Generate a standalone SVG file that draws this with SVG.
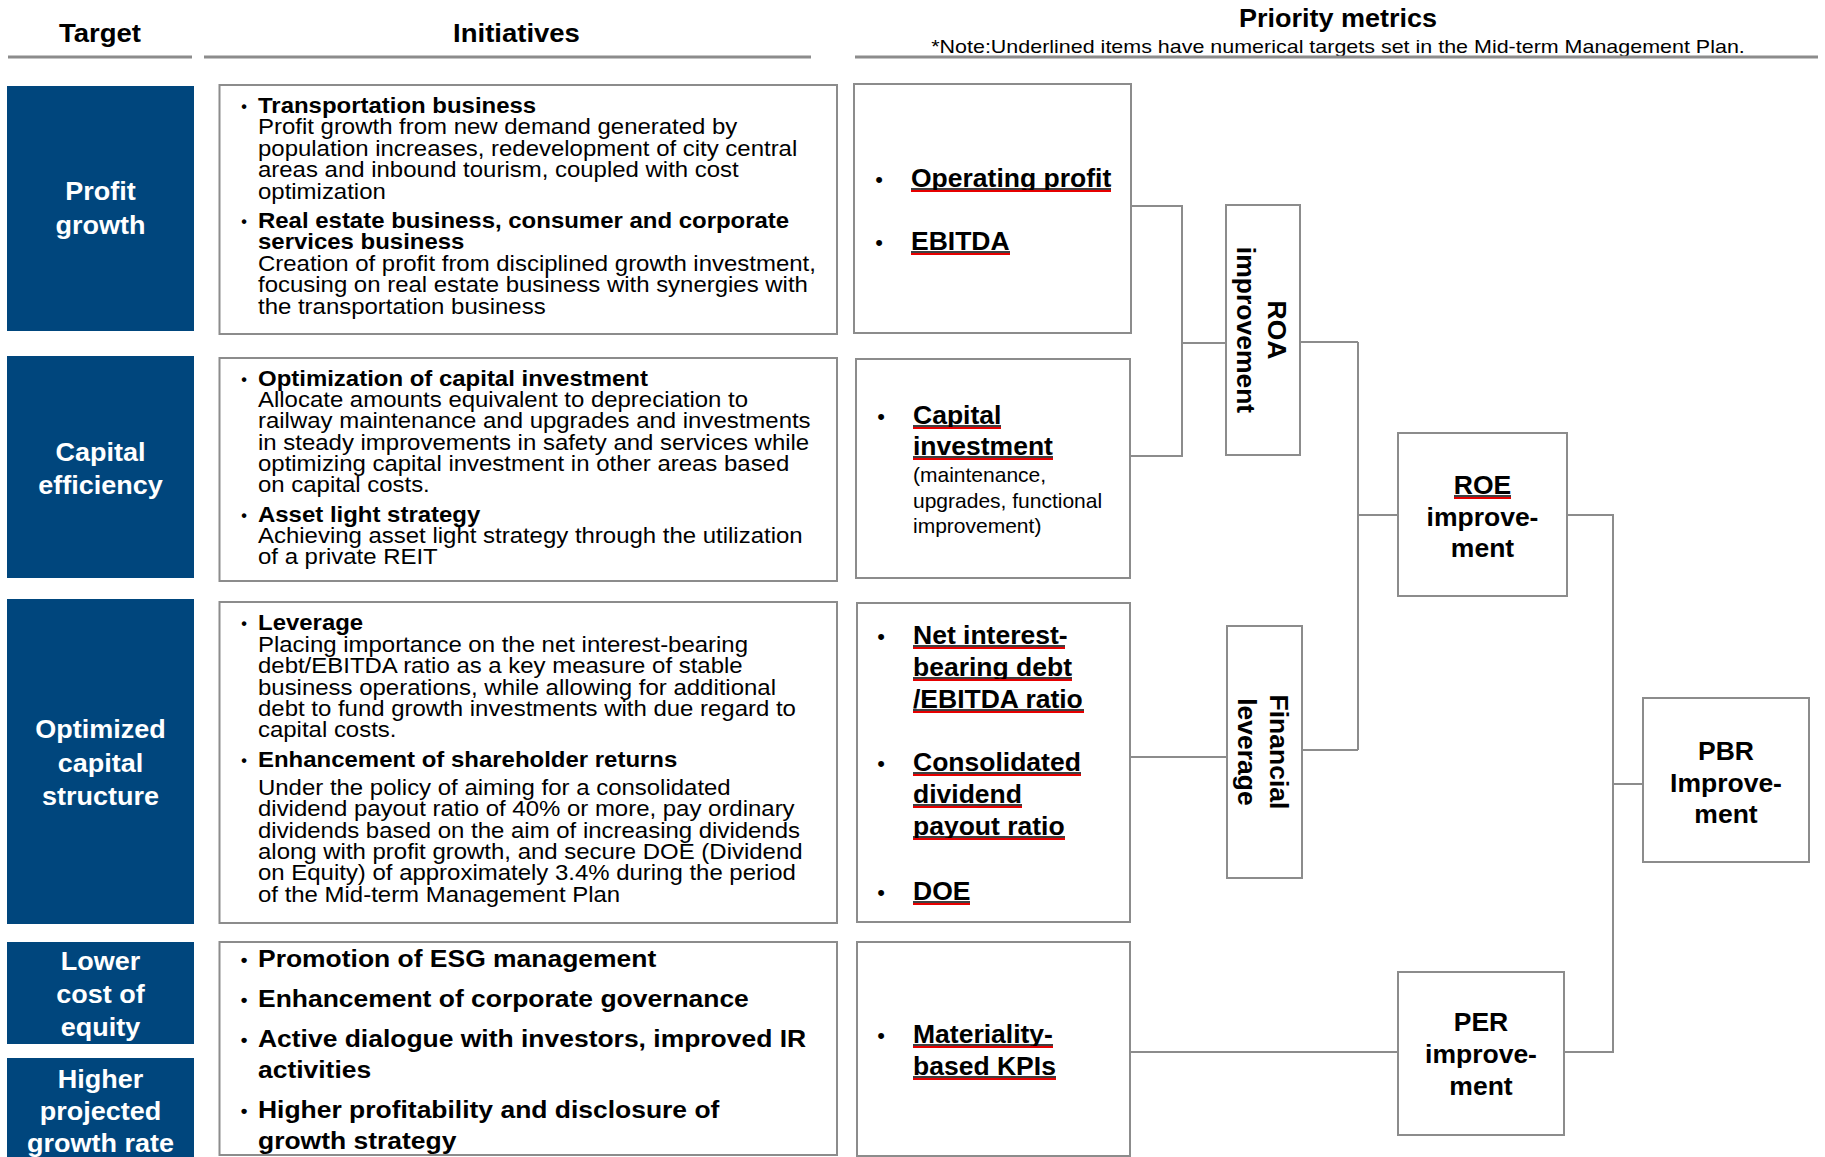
<svg xmlns="http://www.w3.org/2000/svg" width="1825" height="1157" viewBox="0 0 1825 1157">
<style>
text{font-family:"Liberation Sans",Arial,sans-serif;fill:#000}
.hdr{font-weight:bold;font-size:25px}
.note{font-size:19px}
.tgt{font-weight:bold;font-size:25px;fill:#fff}
.tbox{fill:#00467d}
.box{fill:#fff;stroke:#8c8c8c;stroke-width:2}
.hline{stroke:#8c8c8c;stroke-width:3}
.conn{fill:none;stroke:#8c8c8c;stroke-width:2}
.ini{font-size:22.5px}
.b{font-weight:bold}
.ib{font-size:16px;font-weight:bold}
.big{font-weight:bold;font-size:24.5px}
.bb{font-size:19px;font-weight:bold}
.met{font-weight:bold;font-size:26.5px}
.mb{font-size:22px}
.sub{font-size:21px}
.ulk{stroke:#000;stroke-width:1.5}
.ulr{stroke:#e60000;stroke-width:1.8}
</style>

<g id="headers">
<text class="hdr" text-anchor="middle" transform="translate(100 42) scale(1.1 1)">Target</text>
<text class="hdr" text-anchor="middle" transform="translate(516.5 42) scale(1.1 1)">Initiatives</text>
<text class="hdr" text-anchor="middle" transform="translate(1338 27) scale(1.08 1)">Priority metrics</text>
<text class="note" text-anchor="middle" transform="translate(1338 53) scale(1.13 1)">*Note:Underlined items have numerical targets set in the Mid-term Management Plan.</text>
<line class="hline" x1="8" y1="57" x2="192" y2="57"/>
<line class="hline" x1="204" y1="57" x2="811" y2="57"/>
<line class="hline" x1="855" y1="57" x2="1818" y2="57"/>
</g>

<g id="target-profit-growth">
<rect class="tbox" x="7" y="86" width="187" height="245"/>
<g transform="translate(100.5 0) scale(1.08 1)"><text class="tgt" text-anchor="middle"><tspan x="0" y="200">Profit</tspan><tspan x="0" y="234">growth</tspan></text></g>
</g>
<g id="target-capital-efficiency">
<rect class="tbox" x="7" y="356" width="187" height="222"/>
<g transform="translate(100.5 0) scale(1.08 1)"><text class="tgt" text-anchor="middle"><tspan x="0" y="461">Capital</tspan><tspan x="0" y="494">efficiency</tspan></text></g>
</g>
<g id="target-optimized-capital-structure">
<rect class="tbox" x="7" y="599" width="187" height="325"/>
<g transform="translate(100.5 0) scale(1.08 1)"><text class="tgt" text-anchor="middle"><tspan x="0" y="738">Optimized</tspan><tspan x="0" y="772">capital</tspan><tspan x="0" y="805">structure</tspan></text></g>
</g>
<g id="target-lower-cost-of-equity">
<rect class="tbox" x="7" y="942" width="187" height="102"/>
<g transform="translate(100.5 0) scale(1.08 1)"><text class="tgt" text-anchor="middle"><tspan x="0" y="970">Lower</tspan><tspan x="0" y="1003">cost of</tspan><tspan x="0" y="1036">equity</tspan></text></g>
</g>
<g id="target-higher-projected-growth-rate">
<rect class="tbox" x="7" y="1058" width="187" height="105"/>
<g transform="translate(100.5 0) scale(1.08 1)"><text class="tgt" text-anchor="middle"><tspan x="0" y="1088">Higher</tspan><tspan x="0" y="1120">projected</tspan><tspan x="0" y="1152">growth rate</tspan></text></g>
</g>

<g id="initiatives-profit-growth">
<rect class="box" x="219.5" y="85" width="617.5" height="249"/>
<text class="ib" text-anchor="middle" x="244" y="112">•</text>
<text class="ib" text-anchor="middle" x="244" y="227">•</text>
<g transform="translate(258 0) scale(1.065 1)"><text class="ini">
<tspan class="b" x="0" y="113">Transportation business</tspan>
<tspan x="0" y="134.5">Profit growth from new demand generated by</tspan>
<tspan x="0" y="156">population increases, redevelopment of city central</tspan>
<tspan x="0" y="177.5">areas and inbound tourism, coupled with cost</tspan>
<tspan x="0" y="199">optimization</tspan>
<tspan class="b" x="0" y="228">Real estate business, consumer and corporate</tspan>
<tspan class="b" x="0" y="249.5">services business</tspan>
<tspan x="0" y="271">Creation of profit from disciplined growth investment,</tspan>
<tspan x="0" y="292.5">focusing on real estate business with synergies with</tspan>
<tspan x="0" y="314">the transportation business</tspan>
</text></g>
</g>

<g id="initiatives-capital-efficiency">
<rect class="box" x="219.5" y="358" width="617.5" height="223"/>
<text class="ib" text-anchor="middle" x="244" y="385">•</text>
<text class="ib" text-anchor="middle" x="244" y="521">•</text>
<g transform="translate(258 0) scale(1.065 1)"><text class="ini">
<tspan class="b" x="0" y="386">Optimization of capital investment</tspan>
<tspan x="0" y="407">Allocate amounts equivalent to depreciation to</tspan>
<tspan x="0" y="428.5">railway maintenance and upgrades and investments</tspan>
<tspan x="0" y="450">in steady improvements in safety and services while</tspan>
<tspan x="0" y="471">optimizing capital investment in other areas based</tspan>
<tspan x="0" y="492">on capital costs.</tspan>
<tspan class="b" x="0" y="522">Asset light strategy</tspan>
<tspan x="0" y="543">Achieving asset light strategy through the utilization</tspan>
<tspan x="0" y="564">of a private REIT</tspan>
</text></g>
</g>

<g id="initiatives-optimized-capital-structure">
<rect class="box" x="219.5" y="602" width="617.5" height="321"/>
<text class="ib" text-anchor="middle" x="244" y="629">•</text>
<text class="ib" text-anchor="middle" x="244" y="766">•</text>
<g transform="translate(258 0) scale(1.065 1)"><text class="ini">
<tspan class="b" x="0" y="630">Leverage</tspan>
<tspan x="0" y="652">Placing importance on the net interest-bearing</tspan>
<tspan x="0" y="673">debt/EBITDA ratio as a key measure of stable</tspan>
<tspan x="0" y="695">business operations, while allowing for additional</tspan>
<tspan x="0" y="716">debt to fund growth investments with due regard to</tspan>
<tspan x="0" y="737">capital costs.</tspan>
<tspan class="b" x="0" y="767">Enhancement of shareholder returns</tspan>
<tspan x="0" y="795">Under the policy of aiming for a consolidated</tspan>
<tspan x="0" y="816.5">dividend payout ratio of 40% or more, pay ordinary</tspan>
<tspan x="0" y="838">dividends based on the aim of increasing dividends</tspan>
<tspan x="0" y="859">along with profit growth, and secure DOE (Dividend</tspan>
<tspan x="0" y="880.5">on Equity) of approximately 3.4% during the period</tspan>
<tspan x="0" y="902">of the Mid-term Management Plan</tspan>
</text></g>
</g>

<g id="initiatives-cost-of-equity">
<rect class="box" x="219.5" y="942" width="617.5" height="213"/>
<text class="bb" text-anchor="middle" x="244" y="966">•</text>
<text class="bb" text-anchor="middle" x="244" y="1006">•</text>
<text class="bb" text-anchor="middle" x="244" y="1046">•</text>
<text class="bb" text-anchor="middle" x="244" y="1117">•</text>
<g transform="translate(258 0) scale(1.08 1)"><text class="big">
<tspan x="0" y="967">Promotion of ESG management</tspan>
<tspan x="0" y="1007">Enhancement of corporate governance</tspan>
<tspan x="0" y="1047">Active dialogue with investors, improved IR</tspan>
<tspan x="0" y="1078">activities</tspan>
<tspan x="0" y="1118">Higher profitability and disclosure of</tspan>
<tspan x="0" y="1149">growth strategy</tspan>
</text></g>
</g>

<g id="metric-profit">
<rect class="box" x="854" y="84" width="277" height="249"/>
<text class="mb" text-anchor="middle" x="879" y="187">•</text>
<text class="mb" text-anchor="middle" x="879" y="250">•</text>
<text class="met" x="911" y="187">Operating profit</text>
<text class="met" x="911" y="250">EBITDA</text>
<line class="ulk" x1="911" y1="189" x2="1111" y2="189"/><line class="ulr" x1="911" y1="191" x2="1111" y2="191"/>
<line class="ulk" x1="911" y1="252" x2="1010" y2="252"/><line class="ulr" x1="911" y1="254" x2="1010" y2="254"/>
</g>

<g id="metric-capital-investment">
<rect class="box" x="856" y="359" width="274" height="219"/>
<text class="mb" text-anchor="middle" x="881" y="424">•</text>
<text class="met"><tspan x="913" y="424">Capital</tspan><tspan x="913" y="455">investment</tspan></text>
<line class="ulk" x1="913" y1="426" x2="1001" y2="426"/><line class="ulr" x1="913" y1="428" x2="1001" y2="428"/>
<line class="ulk" x1="913" y1="457" x2="1053" y2="457"/><line class="ulr" x1="913" y1="459" x2="1053" y2="459"/>
<text class="sub"><tspan x="913" y="482">(maintenance,</tspan><tspan x="913" y="508">upgrades, functional</tspan><tspan x="913" y="533">improvement)</tspan></text>
</g>

<g id="metric-leverage">
<rect class="box" x="857" y="603" width="273" height="319"/>
<text class="mb" text-anchor="middle" x="881" y="644">•</text>
<text class="mb" text-anchor="middle" x="881" y="771">•</text>
<text class="mb" text-anchor="middle" x="881" y="900">•</text>
<text class="met"><tspan x="913" y="644">Net interest-</tspan><tspan x="913" y="676">bearing debt</tspan><tspan x="913" y="708">/EBITDA ratio</tspan><tspan x="913" y="771">Consolidated</tspan><tspan x="913" y="803">dividend</tspan><tspan x="913" y="835">payout ratio</tspan><tspan x="913" y="900">DOE</tspan></text>
<line class="ulk" x1="913" y1="646" x2="1065" y2="646"/><line class="ulr" x1="913" y1="648" x2="1065" y2="648"/>
<line class="ulk" x1="913" y1="678" x2="1072" y2="678"/><line class="ulr" x1="913" y1="680" x2="1072" y2="680"/>
<line class="ulk" x1="913" y1="710" x2="1084" y2="710"/><line class="ulr" x1="913" y1="712" x2="1084" y2="712"/>
<line class="ulk" x1="913" y1="773" x2="1081" y2="773"/><line class="ulr" x1="913" y1="775" x2="1081" y2="775"/>
<line class="ulk" x1="913" y1="805" x2="1022" y2="805"/><line class="ulr" x1="913" y1="807" x2="1022" y2="807"/>
<line class="ulk" x1="913" y1="837" x2="1065" y2="837"/><line class="ulr" x1="913" y1="839" x2="1065" y2="839"/>
<line class="ulk" x1="913" y1="902" x2="970" y2="902"/><line class="ulr" x1="913" y1="904" x2="970" y2="904"/>
</g>

<g id="metric-materiality">
<rect class="box" x="857" y="942" width="273" height="214"/>
<text class="mb" text-anchor="middle" x="881" y="1043">•</text>
<text class="met"><tspan x="913" y="1043">Materiality-</tspan><tspan x="913" y="1075">based KPIs</tspan></text>
<line class="ulk" x1="913" y1="1045" x2="1053" y2="1045"/><line class="ulr" x1="913" y1="1047" x2="1053" y2="1047"/>
<line class="ulk" x1="913" y1="1077" x2="1056" y2="1077"/><line class="ulr" x1="913" y1="1079" x2="1056" y2="1079"/>
</g>

<g id="roa">
<rect class="box" x="1226" y="205" width="74" height="250"/>
<text class="met" text-anchor="middle" transform="translate(1263 330) rotate(90)"><tspan x="0" y="-5">ROA</tspan><tspan x="0" y="26">improvement</tspan></text>
</g>

<g id="financial-leverage">
<rect class="box" x="1227" y="626" width="75" height="252"/>
<text class="met" text-anchor="middle" transform="translate(1264.5 752) rotate(90)"><tspan x="0" y="-5">Financial</tspan><tspan x="0" y="27">leverage</tspan></text>
</g>

<g id="roe">
<rect class="box" x="1398" y="433" width="169" height="163"/>
<text class="met" text-anchor="middle"><tspan x="1482.5" y="494">ROE</tspan><tspan x="1482.5" y="526">improve-</tspan><tspan x="1482.5" y="557">ment</tspan></text>
<line class="ulk" x1="1454" y1="496" x2="1511" y2="496"/><line class="ulr" x1="1454" y1="498" x2="1511" y2="498"/>
</g>

<g id="per">
<rect class="box" x="1398" y="972" width="166" height="163"/>
<text class="met" text-anchor="middle"><tspan x="1481" y="1031">PER</tspan><tspan x="1481" y="1063">improve-</tspan><tspan x="1481" y="1095">ment</tspan></text>
</g>

<g id="pbr">
<rect class="box" x="1643" y="698" width="166" height="164"/>
<text class="met" text-anchor="middle"><tspan x="1726" y="760">PBR</tspan><tspan x="1726" y="792">Improve-</tspan><tspan x="1726" y="823">ment</tspan></text>
</g>

<g id="connectors">
<path class="conn" d="M1131 206 H1182 V456 H1130"/>
<path class="conn" d="M1182 343 H1226"/>
<path class="conn" d="M1300 342 H1358"/>
<path class="conn" d="M1358 342 V750"/>
<path class="conn" d="M1358 515 H1398"/>
<path class="conn" d="M1130 757 H1227"/>
<path class="conn" d="M1302 750 H1358"/>
<path class="conn" d="M1130 1052 H1398"/>
<path class="conn" d="M1567 515 H1613 V1052 H1564"/>
<path class="conn" d="M1613 784 H1643"/>
</g>
</svg>
